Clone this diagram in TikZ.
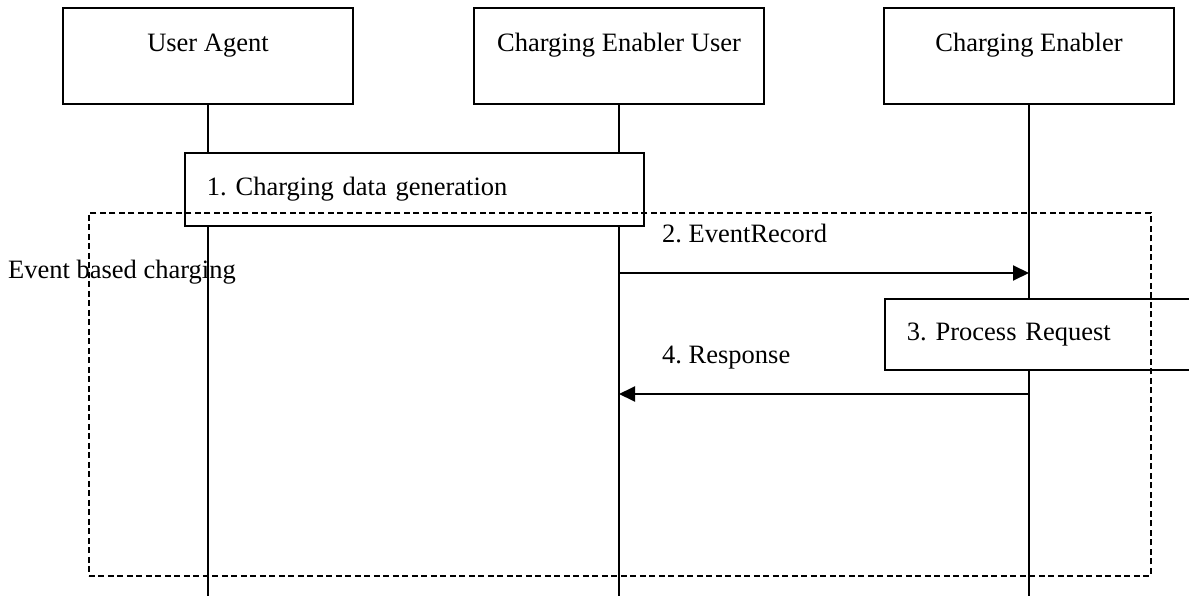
\documentclass[tikz,border=0pt]{standalone}
\usepackage{fontspec}
\setmainfont{Liberation Serif}
\usetikzlibrary{arrows.meta}
\begin{document}
\frenchspacing
\begin{tikzpicture}[x=1pt,y=-1pt,
  every node/.style={font=\fontsize{26.5}{30}\selectfont},
  actor/.style={draw, line width=1.9pt, fill=white, minimum width=290pt, inner xsep=0pt, inner ysep=0pt, text height=44pt, text depth=52pt, anchor=base},
  actbox/.style={draw, line width=1.9pt, fill=white, inner xsep=22pt, inner ysep=0pt, align=left, anchor=north west},
  lifeline/.style={line width=1.6pt},
  msg/.style={line width=1.9pt, -{Triangle[length=16pt,width=15pt]}},
  frame/.style={draw, line width=1.8pt, dash pattern=on 6pt off 3.5pt},
  lbl/.style={anchor=base west, inner sep=0pt}
]
\useasboundingbox (0,0) rectangle (1189,596);
\clip (0,0) rectangle (1189,596);
% actors
\node[actor] (ua) at (208,52) {User Agent};
\node[actor] (ceu) at (619,52) {Charging Enabler User};
\node[actor] (ce) at (1029,52) {Charging Enabler};
% lifeline ends
\coordinate (uaend) at (208,600);
\coordinate (ceuend) at (619,600);
\coordinate (ceend) at (1029,600);
\draw[lifeline] (ua.south) -- (uaend);
\draw[lifeline] (ceu.south) -- (ceuend);
\draw[lifeline] (ce.south) -- (ceend);
% activation boxes
\node[actbox, text width=415pt, text height=43pt, text depth=30pt] (gen) at (184,152) {1. Charging data generation};
\node[actbox, text width=300pt, text height=42pt, text depth=29pt] (proc) at (884,298) {3. Process Request};
% messages
\coordinate (m2s) at (619,273);
\coordinate (m2e) at (1029,273);
\coordinate (m4s) at (1029,394);
\coordinate (m4e) at (619,394);
\draw[msg] (m2s) -- (m2e);
\draw[msg] (m4s) -- (m4e);
\node[lbl] (l2) at (662,243) {2. EventRecord};
\node[lbl] (l4) at (662,363) {4. Response};
% frame
\node[frame, minimum width=1062pt, minimum height=363pt, inner sep=0pt, anchor=north west] (fr) at (88,212) {};
\node[lbl] (frl) at (8,278) {Event based charging};
\end{tikzpicture}
\end{document}
